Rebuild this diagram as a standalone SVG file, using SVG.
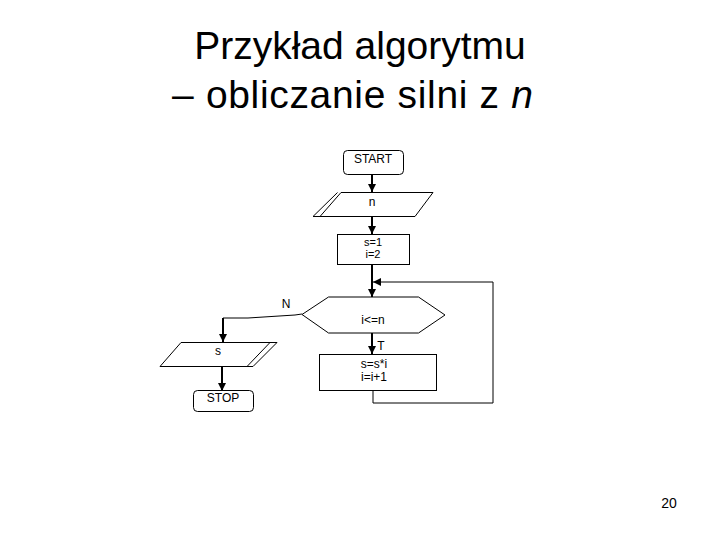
<svg xmlns="http://www.w3.org/2000/svg" width="720" height="540" viewBox="0 0 720 540">
<defs>
<style>
.title{font-family:"Liberation Sans",Arial,sans-serif;font-size:39px;fill:#000}
.lbl{font-family:"Liberation Sans",Arial,sans-serif;font-size:12px;fill:#000;text-anchor:middle}
.small{font-size:11px}
.shape{fill:#fff;stroke:#000;stroke-width:1}
.line{fill:none;stroke:#000;stroke-width:1}
.thick{fill:none;stroke:#000;stroke-width:2}
</style>
<marker id="arr" viewBox="0 0 8 8" refX="8" refY="4" markerWidth="8" markerHeight="8" markerUnits="userSpaceOnUse" orient="auto">
<path d="M0,0 L8,4 L0,8 Z" fill="#000"/>
</marker>
</defs>
<rect width="720" height="540" fill="#fff"/>
<g id="title">
<text class="title" x="360" y="59" text-anchor="middle">Przykład algorytmu</text>
<text class="title" x="172" y="108" textLength="361" lengthAdjust="spacing">– obliczanie silni z <tspan font-style="italic">n</tspan></text>
</g>
<g id="connectors">
<line class="thick" x1="372" y1="175" x2="372" y2="192" marker-end="url(#arr)"/>
<line class="thick" x1="372" y1="216" x2="372" y2="234" marker-end="url(#arr)"/>
<line class="thick" x1="372" y1="264" x2="372" y2="297" marker-end="url(#arr)"/>
<line class="thick" x1="372" y1="333" x2="372" y2="354" marker-end="url(#arr)"/>
<polyline class="line" points="373,390 373,403 493,403 493,282 373,282" marker-end="url(#arr)"/>
<polyline class="line" points="302,314 295,315 248,318 223,318"/>
<line class="thick" x1="223" y1="318" x2="223" y2="342" marker-end="url(#arr)"/>
<line class="thick" x1="222" y1="366" x2="222" y2="391" marker-end="url(#arr)"/>
<text class="lbl" x="286" y="308">N</text>
<text class="lbl" x="381" y="350">T</text>
</g>
<g id="start">
<rect class="shape" x="343.5" y="150.5" width="60" height="24" rx="4"/>
<text class="lbl" x="373" y="163">START</text>
</g>
<g id="input-n">
<path class="shape" d="M313,216.5 H415 L433,192.5 H341 L320,216.5"/>
<line class="line" x1="313" y1="216.5" x2="337.5" y2="192.5"/>
<text class="lbl" x="372" y="206">n</text>
</g>
<g id="init">
<rect class="shape" x="337.5" y="234.5" width="72" height="30"/>
<text class="lbl small" x="373" y="246">s=1</text>
<text class="lbl small" x="373" y="258">i=2</text>
</g>
<g id="cond">
<polygon class="shape" points="302,314.5 328.5,297 418.5,297 445,315 418.5,333 328.5,333"/>
<text class="lbl" x="373" y="323.5">i&lt;=n</text>
</g>
<g id="body">
<rect class="shape" x="319.5" y="354.5" width="117" height="36"/>
<text class="lbl" x="374" y="367.5">s=s*i</text>
<text class="lbl" x="374" y="380.5">i=i+1</text>
</g>
<g id="output-s">
<path class="shape" d="M181,342.5 H277 L253,366.5 H160 Z"/>
<line class="line" x1="247" y1="366.5" x2="270" y2="342.5"/>
<text class="lbl" x="218" y="354.5">s</text>
</g>
<g id="stop">
<rect class="shape" x="193.5" y="390.5" width="60" height="21" rx="4"/>
<text class="lbl" x="223" y="402">STOP</text>
</g>
<text x="669" y="508" font-family="Liberation Sans,Arial,sans-serif" font-size="14" text-anchor="middle">20</text>
</svg>
